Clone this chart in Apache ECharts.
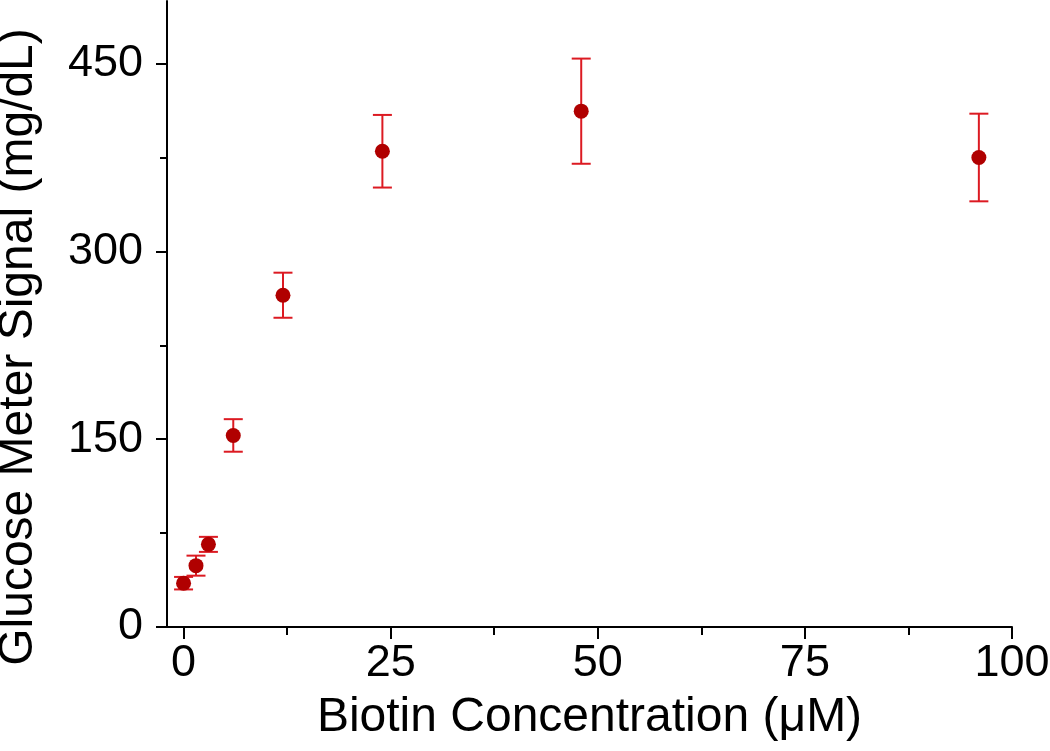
<!DOCTYPE html>
<html>
<head>
<meta charset="utf-8">
<script src="https://cdn.jsdelivr.net/npm/echarts@6/dist/echarts.min.js"></script>
<style>
html,body{margin:0;padding:0;background:#fff;}
#chart{width:1050px;height:751px;}
</style>
</head>
<body>
<div id="chart"></div>
<script>
// Data
const concentration = [0, 1.5, 3, 6, 12, 24, 48, 96];          // µM
const signal        = [35, 49, 66, 153, 265, 380, 412, 375];   // mg/dL
const errors        = [5, 8, 6, 13, 18, 29, 42, 35];           // ± mg/dL

const xMajorTicks = [0, 25, 50, 75, 100];
const xMinorTicks = [12.5, 37.5, 62.5, 87.5];
const yMajorTicks = [0, 150, 300, 450];
const yMinorTicks = [75, 225, 375];

const font = 'Liberation Sans, Arial, sans-serif';
const pointData = concentration.map((c, i) => [c, signal[i]]);
const errData = concentration.map((c, i) => [c, signal[i], errors[i]]);

const chart = echarts.init(document.getElementById('chart'), null, {renderer: 'canvas'});

const axisLineStyle = {color: '#000', width: 2};

chart.setOption({
  backgroundColor: '#fff',
  animation: false,
  grid: {left: 167, right: 38, top: 1, bottom: 124, containLabel: false, outerBoundsMode: 'none'},
  xAxis: [{
    type: 'value', min: -2, max: 100,
    position: 'bottom',
    splitLine: {show: false},
    axisLine: {show: true, onZero: false, lineStyle: axisLineStyle},
    axisTick: {show: true, length: 12, lineStyle: {color: '#000', width: 2}, customValues: xMajorTicks},
    axisLabel: {show: true, customValues: xMajorTicks, fontSize: 45, fontFamily: font, color: '#000', margin: 14},
    name: 'Biotin Concentration (\u03bcM)',
    nameLocation: 'middle', nameGap: 67,
    nameTextStyle: {fontSize: 48, fontFamily: font, color: '#000'}
  }, {
    type: 'value', min: -2, max: 100,
    position: 'bottom',
    splitLine: {show: false},
    axisLine: {show: false, onZero: false},
    axisTick: {show: true, length: 8, lineStyle: {color: '#000', width: 2}, customValues: xMinorTicks},
    axisLabel: {show: false}
  }],
  yAxis: [{
    type: 'value', min: 0, max: 500,
    position: 'left',
    splitLine: {show: false},
    axisLine: {show: true, onZero: false, lineStyle: axisLineStyle},
    axisTick: {show: true, length: 11, lineStyle: {color: '#000', width: 2}, customValues: yMajorTicks},
    axisLabel: {show: true, customValues: yMajorTicks, fontSize: 45, fontFamily: font, color: '#000', margin: 24},
    name: 'Glucose Meter Signal (mg/dL)',
    nameLocation: 'middle', nameGap: 124,
    nameTextStyle: {fontSize: 48, fontFamily: font, color: '#000', padding: [0, 66, 0, 0]}
  }, {
    type: 'value', min: 0, max: 500,
    position: 'left',
    splitLine: {show: false},
    axisLine: {show: false, onZero: false},
    axisTick: {show: true, length: 7, lineStyle: {color: '#000', width: 2}, customValues: yMinorTicks},
    axisLabel: {show: false}
  }],
  series: [{
    type: 'custom',
    xAxisIndex: 0, yAxisIndex: 0,
    data: errData,
    z: 2,
    renderItem: function (params, api) {
      const x = api.value(0), y = api.value(1), e = api.value(2);
      const top = api.coord([x, y + e]);
      const bot = api.coord([x, y - e]);
      const hw = 9.5;
      const st = {stroke: '#dc1a22', lineWidth: 2};
      return {
        type: 'group',
        children: [
          {type: 'line', shape: {x1: top[0], y1: top[1], x2: bot[0], y2: bot[1]}, style: st},
          {type: 'line', shape: {x1: top[0] - hw, y1: top[1], x2: top[0] + hw, y2: top[1]}, style: st},
          {type: 'line', shape: {x1: bot[0] - hw, y1: bot[1], x2: bot[0] + hw, y2: bot[1]}, style: st}
        ]
      };
    }
  }, {
    type: 'scatter',
    xAxisIndex: 0, yAxisIndex: 0,
    data: pointData,
    symbol: 'circle',
    symbolSize: 15,
    z: 3,
    itemStyle: {color: '#b00000', opacity: 1}
  }]
});
</script>
</body>
</html>
